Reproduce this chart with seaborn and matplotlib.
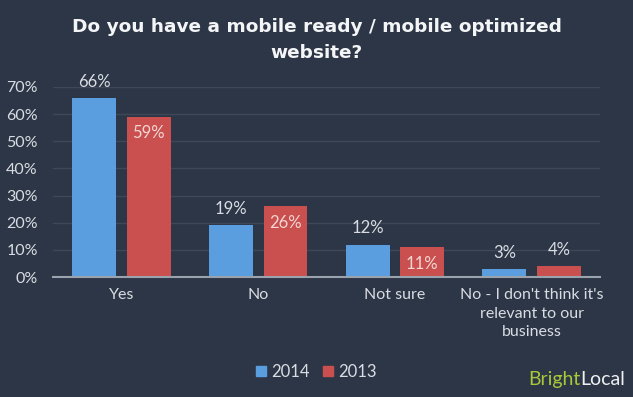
import pandas as pd
import matplotlib.pyplot as plt
import seaborn as sns

# Chart data
categories = ["Yes", "No", "Not sure", "No - I don't think it's\nrelevant to our\nbusiness"]
years = ["2014", "2013"]
values_2014 = [66, 19, 12, 3]
values_2013 = [59, 26, 11, 4]
y_ticks = [0, 10, 20, 30, 40, 50, 60, 70]

df = pd.DataFrame({
    "category": categories * 2,
    "year": ["2014"] * 4 + ["2013"] * 4,
    "value": values_2014 + values_2013,
})

bg = "#2d3646"
text_col = "#d9dde3"
palette = {"2014": "#5a9ee0", "2013": "#c9504e"}

sns.set_theme(style="dark")
plt.rcParams["font.family"] = ["Lato", "DejaVu Sans"]

fig = plt.figure(figsize=(6.33, 3.97), dpi=100, facecolor=bg)
ax = fig.add_axes([0.084, 0.302, 0.864, 0.479])
ax.set_facecolor(bg)

sns.barplot(data=df, x="category", y="value", hue="year", hue_order=years,
            order=categories, palette=palette, width=0.8, gap=0.2,
            saturation=1, linewidth=0, ax=ax, legend=False)

ax.set_ylim(0, 70)
ax.set_yticks(y_ticks)
ax.set_yticklabels([f"{t}%" for t in y_ticks])
ax.yaxis.grid(True, color="#3e4859", linewidth=1)
ax.set_axisbelow(True)
for s in ["top", "right", "left"]:
    ax.spines[s].set_visible(False)
ax.spines["bottom"].set_color("#9aa3ad")
ax.spines["bottom"].set_linewidth(1.5)
ax.tick_params(axis="both", colors=text_col, labelsize=11.5, length=0)
ax.tick_params(axis="y", pad=11)
ax.tick_params(axis="x", pad=8)
ax.set_xlabel("")
ax.set_ylabel("")
for lbl in ax.get_xticklabels():
    lbl.set_color(text_col)
    lbl.set_linespacing(1.4)

# value labels
for year, cont in zip(years, ax.containers):
    for bar in cont:
        h = bar.get_height()
        cx = bar.get_x() + bar.get_width() / 2
        if year == "2013" and h > 8:
            ax.text(cx, h - 6, f"{h:.0f}%", ha="center", va="center",
                    color="#f3d6d4", fontsize=12)
        else:
            ax.text(cx, h + 6, f"{h:.0f}%", ha="center", va="center",
                    color=text_col, fontsize=12)

fig.text(0.5, 0.899, "Do you have a mobile ready / mobile optimized\nwebsite?",
         ha="center", va="center", color="#f4f5f7", fontsize=13.3,
         fontweight="bold", linespacing=1.6, family="DejaVu Sans")

# legend
handles = [plt.Rectangle((0, 0), 1, 1, color=palette[y]) for y in years]
fig.legend(handles, years, loc="center", bbox_to_anchor=(0.5, 0.063), ncol=2,
           frameon=False, fontsize=12, labelcolor=text_col, handlelength=0.6,
           handleheight=0.6, handletextpad=0.3, columnspacing=0.8)

# brand
brand_font = ["Liberation Sans Narrow", "Lato", "DejaVu Sans"]
local = fig.text(0.988, 0.045, "Local", ha="right", va="center",
                 color="#eef0f2", fontsize=14, family=brand_font)
fig.canvas.draw()
x_left = local.get_window_extent().x0 / fig.bbox.width
fig.text(x_left, 0.045, "Bright", ha="right", va="center", color="#a8c83a",
         fontsize=14, family=brand_font)

fig.savefig("out.png", dpi=100, facecolor=bg)
